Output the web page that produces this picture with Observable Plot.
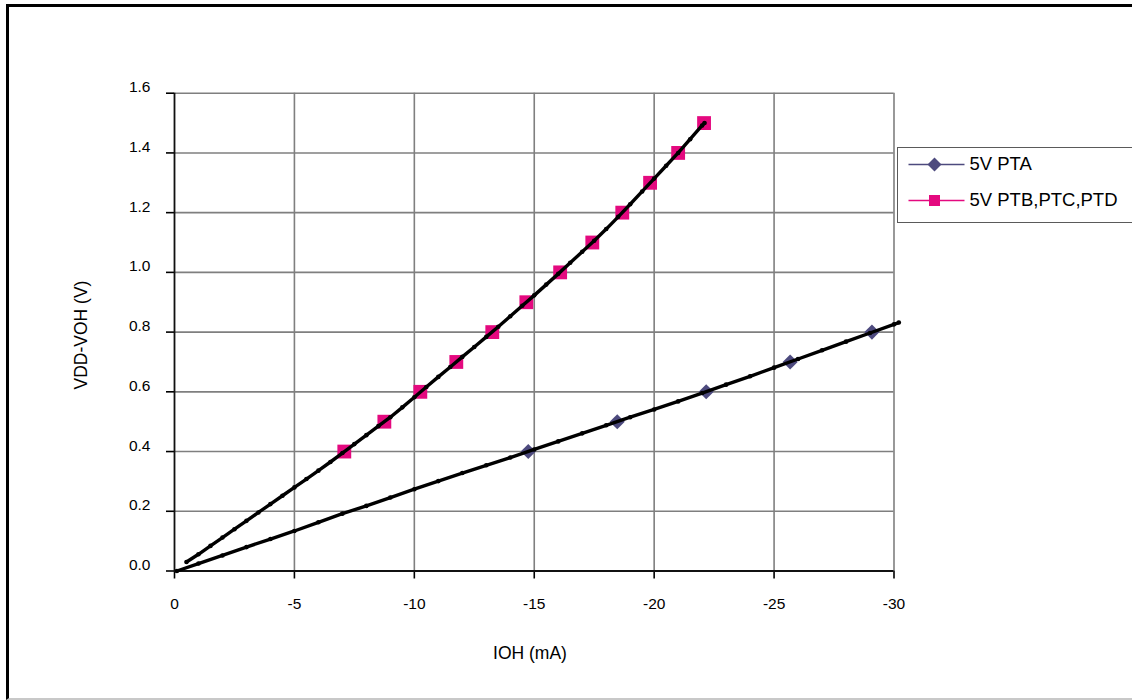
<!DOCTYPE html>
<html>
<head>
<meta charset="utf-8">
<script src="https://cdn.jsdelivr.net/npm/d3@7"></script>
<script src="https://cdn.jsdelivr.net/npm/@observablehq/plot@0.6"></script>
<style>
  body { margin: 0; background: #fff; font-family: "Liberation Sans", Arial, sans-serif; }
  #wrap { position: relative; width: 1132px; height: 700px; overflow: hidden; background: #fff; }
  #frame { position: absolute; left: 6px; top: 4px; width: 1200px; height: 691px;
           border-left: 3px solid #000; border-top: 3px solid #000; border-bottom: 2px solid #c8c8c8; }
  #chart { position: absolute; left: 0; top: 0; }
  .title { position: absolute; font-size: 17.5px; line-height: 1; color: #000; white-space: nowrap; }
  #xtitle { left: 430px; width: 200px; top: 645px; text-align: center; }
  #ytitle { left: 82px; top: 335px; transform: translate(-50%, -50%) rotate(-90deg); }
  #legend { position: absolute; left: 897px; top: 147px; width: 260px; height: 74px;
            border: 1.5px solid #5a5a5a; background: #fff; }
  #legend svg { position: absolute; left: 0; top: 0; }
</style>
</head>
<body>
<div id="wrap">
  <div id="frame"></div>
  <div id="chart"></div>
  <div class="title" id="xtitle">IOH (mA)</div>
  <div class="title" id="ytitle">VDD-VOH (V)</div>
  <div id="legend"></div>
</div>
<script>
// ---- Data ----
const xTicks = [0, -5, -10, -15, -20, -25, -30];
const yTicks = [0, 0.2, 0.4, 0.6, 0.8, 1.0, 1.2, 1.4, 1.6];

const seriesNames = ["5V PTA", "5V PTB,PTC,PTD"];
const seriesColors = ["#4d4a7e", "#e4097f"];

// marker points (IOH mA, VDD-VOH V)
const ptaMarkI = [-14.75, -18.46, -22.17, -25.67, -29.08];
const ptaMarkV = [0.4, 0.5, 0.6, 0.7, 0.8];
const ptbMarkI = [-7.08, -8.75, -10.25, -11.75, -13.25, -14.67, -16.08, -17.42, -18.67, -19.83, -21.0, -22.08];
const ptbMarkV = [0.4, 0.5, 0.6, 0.7, 0.8, 0.9, 1.0, 1.1, 1.2, 1.3, 1.4, 1.5];

// measured traces (black dotted curves)
const ptaCurveI = [-0.1, -1, -2, -3, -4, -5, -6, -7, -8, -9, -10, -11, -12, -13, -14, -15, -16, -17, -18, -19, -20, -21, -22, -23, -24, -25, -26, -27, -28, -29, -30, -30.2];
const ptaCurveV = [0.0, 0.025, 0.052, 0.08, 0.107, 0.134, 0.163, 0.192, 0.218, 0.246, 0.274, 0.301, 0.328, 0.354, 0.38, 0.407, 0.434, 0.461, 0.488, 0.515, 0.541, 0.568, 0.596, 0.624, 0.652, 0.681, 0.71, 0.739, 0.768, 0.797, 0.826, 0.832];
const ptbCurveI = [-0.5, -1, -1.5, -2, -2.5, -3, -3.5, -4, -4.5, -5, -5.5, -6, -6.5, -7, -7.5, -8, -8.5, -9, -9.5, -10, -10.5, -11, -11.5, -12, -12.5, -13, -13.5, -14, -14.5, -15, -15.5, -16, -16.5, -17, -17.5, -18, -18.5, -19, -19.5, -20, -20.5, -21, -21.5, -22, -22.1];
const ptbCurveV = [0.03, 0.056, 0.084, 0.112, 0.14, 0.168, 0.196, 0.224, 0.252, 0.28, 0.308, 0.336, 0.365, 0.395, 0.425, 0.455, 0.485, 0.515, 0.548, 0.582, 0.616, 0.65, 0.683, 0.717, 0.75, 0.784, 0.818, 0.853, 0.888, 0.923, 0.959, 0.995, 1.032, 1.069, 1.106, 1.145, 1.186, 1.228, 1.271, 1.314, 1.357, 1.4, 1.446, 1.492, 1.5];

const zip = (xs, ys) => xs.map((x, i) => ({x, y: ys[i]}));
const ptaMarks = zip(ptaMarkI, ptaMarkV);
const ptbMarks = zip(ptbMarkI, ptbMarkV);
const ptaCurve = zip(ptaCurveI, ptaCurveV);
const ptbCurve = zip(ptbCurveI, ptbCurveV);

const chart = Plot.plot({
  width: 1132,
  height: 700,
  marginLeft: 174,
  marginRight: 238.5,
  marginTop: 92.7,
  marginBottom: 129.5,
  style: { fontFamily: '"Liberation Sans", Arial, sans-serif', fontSize: "15.5px", color: "#000", background: "transparent", overflow: "visible" },
  x: { domain: [0, -30] },
  y: { domain: [0, 1.6] },
  marks: [
    Plot.ruleX(xTicks.slice(1), { stroke: "#7f7f7f", strokeWidth: 1.6 }),
    Plot.ruleY(yTicks.slice(1), { stroke: "#7f7f7f", strokeWidth: 1.6 }),
    Plot.axisX({ ticks: xTicks, tickSize: 8, tickPadding: 19, tickFormat: d => String(d), label: null, strokeWidth: 1.6 }),
    Plot.axisY({ ticks: yTicks, tickSize: 8, tickFormat: d => "", fill: "none", label: null, strokeWidth: 1.6 }),
    Plot.axisY({ ticks: yTicks, tickSize: 0, tickPadding: 24, dy: -6, tickFormat: d3.format(".1f"), label: null }),
    Plot.ruleX([0], { stroke: "#111", strokeWidth: 1.8 }),
    Plot.ruleY([0], { stroke: "#111", strokeWidth: 1.8 }),
    Plot.line(ptaMarks, { x: "x", y: "y", stroke: seriesColors[0], strokeWidth: 1 }),
    Plot.dot(ptaMarks, { x: "x", y: "y", symbol: "diamond2", r: 6.8, fill: seriesColors[0], stroke: "none" }),
    Plot.line(ptbMarks, { x: "x", y: "y", stroke: seriesColors[1], strokeWidth: 1 }),
    Plot.dot(ptbMarks, { x: "x", y: "y", symbol: "square", r: 7.8, fill: seriesColors[1], stroke: "none" }),
    Plot.line(ptaCurve, { x: "x", y: "y", stroke: "#000", strokeWidth: 3.4 }),
    Plot.dot(ptaCurve, { x: "x", y: "y", r: 2.3, fill: "#000", stroke: "none" }),
    Plot.line(ptbCurve, { x: "x", y: "y", stroke: "#000", strokeWidth: 3.4 }),
    Plot.dot(ptbCurve, { x: "x", y: "y", r: 2.3, fill: "#000", stroke: "none" })
  ]
});
document.getElementById("chart").appendChild(chart);

// ---- Legend ----
const ns = "http://www.w3.org/2000/svg";
const lsvg = document.createElementNS(ns, "svg");
lsvg.setAttribute("width", 260);
lsvg.setAttribute("height", 74);
const rows = [16.5, 52.5];
seriesNames.forEach((name, i) => {
  const y = rows[i];
  const line = document.createElementNS(ns, "line");
  line.setAttribute("x1", 10.5); line.setAttribute("x2", 66.5);
  line.setAttribute("y1", y); line.setAttribute("y2", y);
  line.setAttribute("stroke", seriesColors[i]); line.setAttribute("stroke-width", 1.5);
  lsvg.appendChild(line);
  const sym = document.createElementNS(ns, "path");
  if (i === 0) {
    sym.setAttribute("d", `M36.5,${y-7}L43.5,${y}L36.5,${y+7}L29.5,${y}Z`);
  } else {
    sym.setAttribute("d", `M31,${y-5.5}h11v11h-11Z`);
  }
  sym.setAttribute("fill", seriesColors[i]);
  lsvg.appendChild(sym);
  const t = document.createElementNS(ns, "text");
  t.setAttribute("x", 71.5);
  t.setAttribute("y", y + 5);
  t.setAttribute("font-size", "18.5px");
  t.setAttribute("font-family", '"Liberation Sans", Arial, sans-serif');
  t.textContent = name;
  lsvg.appendChild(t);
});
document.getElementById("legend").appendChild(lsvg);
</script>
</body>
</html>
